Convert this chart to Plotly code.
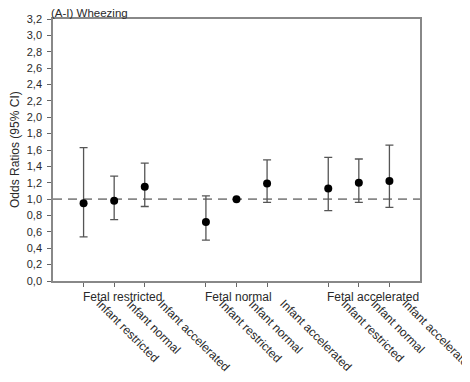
import plotly.graph_objects as go

x_pos = [1, 2, 3, 5, 6, 7, 9, 10, 11]
infant_labels = ["Infant restricted", "Infant normal", "Infant accelerated"] * 3
group_labels = ["Fetal restricted", "Fetal normal", "Fetal accelerated"]
group_start = [1, 5, 9]
odds = [0.95, 0.98, 1.15, 0.72, 1.00, 1.19, 1.13, 1.20, 1.22]
upper = [1.63, 1.28, 1.44, 1.04, 1.00, 1.48, 1.51, 1.49, 1.66]
lower = [0.54, 0.75, 0.91, 0.50, 1.00, 0.96, 0.86, 0.96, 0.90]
y_ticks = [round(i * 0.2, 1) for i in range(17)]
y_ticktext = [f"{v:.1f}".replace(".", ",") for v in y_ticks]

err_plus = [u - o for u, o in zip(upper, odds)]
err_minus = [o - l for o, l in zip(odds, lower)]

font = "Liberation Sans, Arial, sans-serif"
txt = "#2a2a2a"
fig = go.Figure()
fig.add_shape(type="line", xref="paper", x0=0, x1=1, yref="y", y0=1, y1=1,
              line=dict(color="#888888", width=1.6, dash="9px,6px"), layer="below")
fig.add_trace(go.Scatter(
    x=x_pos, y=odds, mode="markers",
    marker=dict(color="black", size=8),
    error_y=dict(type="data", symmetric=False, array=err_plus, arrayminus=err_minus,
                 color="#555555", thickness=1.3, width=4),
    showlegend=False))

for g, p in zip(group_labels, group_start):
    fig.add_annotation(x=p, y=0, xref="x", yref="paper", xshift=-3, yshift=-7, text=g,
                       showarrow=False, xanchor="left", yanchor="top",
                       font=dict(size=12, color=txt, family=font))

for lab, p in zip(infant_labels, x_pos):
    fig.add_annotation(x=p, y=0, xref="x", yref="paper", xshift=7, yshift=-13, text=lab,
                       showarrow=False, xanchor="left", yanchor="top", textangle=45,
                       font=dict(size=12, color=txt, family=font))

fig.add_annotation(x=0, y=1, xref="paper", yref="paper", xshift=-3, yshift=-1,
                   text="(A-I) Wheezing", borderpad=0,
                   showarrow=False, xanchor="left", yanchor="bottom",
                   font=dict(size=11.5, color=txt, family=font))

fig.add_annotation(x=0, y=0.5, xref="paper", yref="paper", xshift=-38, text="Odds Ratios (95% CI)",
                   showarrow=False, xanchor="center", yanchor="middle", textangle=-90,
                   font=dict(size=12, color=txt, family=font))

# page body has an 8px default margin, so the figure is sized to fit the 470x382 window
fig.update_layout(
    width=462, height=374,
    margin=dict(l=45, r=50, t=11, b=101),
    plot_bgcolor="white", paper_bgcolor="white",
    font=dict(family=font, color=txt, size=11),
    xaxis=dict(range=[0, 12], tickmode="array", tickvals=x_pos, showticklabels=False,
               ticks="outside", ticklen=4, tickcolor="#666666", automargin=False,
               showline=True, linecolor="#888888", linewidth=1.5, mirror=True,
               showgrid=False, zeroline=False),
    yaxis=dict(range=[0, 3.2], tickmode="array", tickvals=y_ticks, ticktext=y_ticktext,
               ticks="outside", ticklen=4, tickcolor="#666666", ticklabelstandoff=3,
               automargin=False,
               showline=True, linecolor="#888888", linewidth=1.5, mirror=True,
               showgrid=False, zeroline=False),
)
fig.write_html("out.html")
